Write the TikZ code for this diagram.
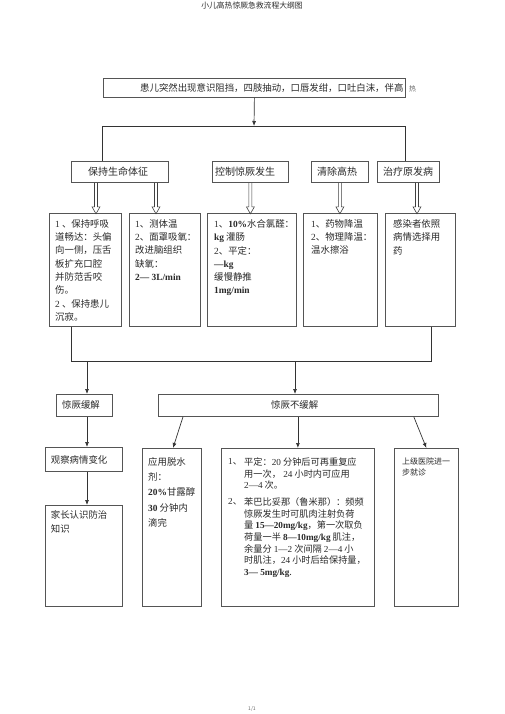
\documentclass[tikz,border=0pt]{standalone}
\usepackage{fontspec}
\setmainfont{Noto Sans CJK SC}
\newfontfamily\lat{Liberation Serif}
\usetikzlibrary{arrows.meta,calc}
\definecolor{linec}{HTML}{555555}
\definecolor{txtc}{HTML}{2A2A2A}
\newcommand{\E}[1]{{\lat #1}}
\newcommand{\B}[1]{{\lat\bfseries #1}}
\begin{document}
\begin{tikzpicture}[x=1pt,y=-1pt,
  box/.style={draw=linec,line width=0.8pt,inner sep=0pt,anchor=north west},
  txt/.style={anchor=north west,inner sep=0pt,align=left,text=txtc,font=\fontsize{9.4}{13.3}\selectfont},
  lbl/.style={anchor=west,inner sep=0pt,text=txtc,font=\fontsize{9.4}{11}\selectfont},
  arr/.style={draw=black!80,line width=0.7pt,-{Latex[length=5pt,width=4pt]}},
  ln/.style={draw=black!80,line width=0.7pt},
  hol/.style={draw=black!75,line width=0.6pt,line join=miter}]
\useasboundingbox (0,0) rectangle (505,714);
\fill[white] (0,0) rectangle (505,714);

% title and footer
\node[font=\fontsize{7.8}{9}\selectfont,text=txtc,inner sep=0pt] (title) at (252,6) {小儿高热惊厥急救流程大纲图};
\node[font=\fontsize{5}{6}\selectfont,text=black!60,inner sep=0pt] (pg) at (252,709) {1/1};

% top box
\node[box,minimum width=302pt,minimum height=19pt] (top) at (103,78) {};
\node[lbl] (toptxt) at (140,88) {患儿突然出现意识阻挡，四肢抽动，口唇发绀，口吐白沫，伴高};
\node[lbl,font=\fontsize{7}{8}\selectfont,text=black!60] (re) at (409,89) {热};

% row 2
\node[box,minimum width=97pt,minimum height=21pt] (g1) at (71,161) {};
\node[box,minimum width=76pt,minimum height=21pt] (g2) at (212,161) {};
\node[box,minimum width=57pt,minimum height=21pt] (g3) at (311,161) {};
\node[box,minimum width=62pt,minimum height=21pt] (g4) at (377,161) {};
\node[lbl,font=\fontsize{10}{12}\selectfont] (l1) at (88,171.5) {保持生命体征};
\node[lbl,font=\fontsize{10}{12}\selectfont] (l2) at (215,171.5) {控制惊厥发生};
\node[lbl,font=\fontsize{10}{12}\selectfont] (l3) at (317,171.5) {清除高热};
\node[lbl,font=\fontsize{10}{12}\selectfont] (l4) at (383,171.5) {治疗原发病};

\coordinate (hlL) at (102,126);
\coordinate (hlM) at (254,126);
\coordinate (hlR) at (405,126);
\draw[arr] (top.south) -- (hlM);
\draw[ln] (g1.north -| hlL) -- (hlL) -- (hlR) -- (g4.north -| hlR);

% row 3
\node[box,minimum width=72pt,minimum height=113pt] (A) at (49,213) {};
\node[box,minimum width=71pt,minimum height=113pt] (B) at (129,213) {};
\node[box,minimum width=89pt,minimum height=113pt] (C) at (207,213) {};
\node[box,minimum width=74pt,minimum height=113pt] (D) at (303,213) {};
\node[box,minimum width=70pt,minimum height=113pt] (E) at (385,213) {};

% hollow arrows (shaft 24, head 7)
\draw[hol] ([xshift=23.5pt]g1.south west) -- ++(0,24) -- ++(-2.5,0) -- ++(4,7) -- ++(4,-7) -- ++(-2.5,0) -- ++(0,-24);
\draw[hol] ([xshift=83.5pt]g1.south west) -- ++(0,24) -- ++(-2.5,0) -- ++(4,7) -- ++(4,-7) -- ++(-2.5,0) -- ++(0,-24);
\draw[hol] ([xshift=-1.5pt]g2.south) -- ++(0,24) -- ++(-2.5,0) -- ++(4,7) -- ++(4,-7) -- ++(-2.5,0) -- ++(0,-24);
\draw[hol] ([xshift=-1.5pt]g3.south) -- ++(0,24) -- ++(-2.5,0) -- ++(4,7) -- ++(4,-7) -- ++(-2.5,0) -- ++(0,-24);
\draw[hol] ([xshift=38.5pt]g4.south west) -- ++(0,24) -- ++(-2.5,0) -- ++(4,7) -- ++(4,-7) -- ++(-2.5,0) -- ++(0,-24);

\node[txt] (tA) at (55,219.3) {\E{1} 、保持呼吸\\道畅达：头偏\\向一侧，压舌\\板扩充口腔\\并防范舌咬\\伤。\\\E{2} 、保持患儿\\沉寂。};
\node[txt] (tB) at (135,219.3) {\E{1}、测体温\\\E{2}、面罩吸氧：\\改进脑组织\\缺氧：\\\B{2— 3L/min}};
\node[txt] (tC) at (214,219.3) {\E{1}、\B{10\%}水合氯醛：\\\B{kg} 灌肠\\\E{2}、平定：\\\B{—kg}\\缓慢静推\\\B{1mg/min}};
\node[txt] (tD) at (311,219.3) {\E{1}、药物降温\\\E{2}、物理降温：\\温水擦浴};
\node[txt] (tE) at (393,219.3) {感染者依照\\病情选择用\\药};

% bracket and outcomes
\coordinate (uL) at (71,361);
\coordinate (uR) at (431,361);
\coordinate (u1) at (87,361);
\coordinate (u2) at (295,361);
\draw[ln] (A.south -| uL) -- (uL) -- (uR) -- (E.south -| uR);

\node[box,minimum width=56pt,minimum height=22pt] (r1) at (56,394) {};
\node[box,minimum width=280pt,minimum height=22pt] (r2) at (158,394) {};
\node[lbl] (lr1) at (62,405) {惊厥缓解};
\node[lbl] (lr2) at (271,405) {惊厥不缓解};
\draw[arr] (u1) -- (u1 |- r1.north);
\draw[arr] (u2) -- (u2 |- r2.north);

% bottom left
\node[box,minimum width=77pt,minimum height=24pt] (obs) at (45,447) {};
\node[lbl] (lobs) at (50.7,460) {观察病情变化};
\node[box,minimum width=77pt,minimum height=101pt] (fam) at (45,505) {};
\node[txt,font=\fontsize{9.4}{14}\selectfont] (tfam) at (50.7,510.3) {家长认识防治\\知识};
\draw[arr] (r1.south -| u1) -- (obs.north -| u1);
\draw[arr] (obs.south -| u1) -- (fam.north -| u1);

% bottom right
\node[box,minimum width=59pt,minimum height=158pt] (dh) at (142,448) {};
\node[box,minimum width=153pt,minimum height=158pt] (mid) at (221,448) {};
\node[box,minimum width=64pt,minimum height=158pt] (hosp) at (394,448) {};

\node[txt,font=\fontsize{9.4}{15.2}\selectfont] (tdh) at (148,457.3) {应用脱水\\剂：\\\B{20\%}甘露醇\\\B{30} 分钟内\\滴完};

\node[lbl,font=\fontsize{9.2}{11.7}\selectfont] (n1) at (228,462) {\E{1}、};
\node[txt,font=\fontsize{9.2}{11.7}\selectfont] (m1) at (244,457.4) {平定：\E{20} 分钟后可再重复应\\用一次，\E{ 24} 小时内可应用\\\E{2—4} 次。};
\node[lbl,font=\fontsize{9.2}{11.7}\selectfont] (n2) at (228,502) {\E{2}、};
\node[txt,font=\fontsize{9.2}{11.7}\selectfont] (m2) at (244,497.4) {苯巴比妥那（鲁米那）：频频\\惊厥发生时可肌肉注射负荷\\量 \B{15—20mg/kg}，第一次取负\\荷量一半 \B{8—10mg/kg} 肌注，\\余量分 \E{1—2} 次间隔 \E{2—4} 小\\时肌注，\E{24} 小时后给保持量，\\\B{3— 5mg/kg}.};

\node[txt,font=\fontsize{8}{11}\selectfont] (th) at (402,458) {上级医院进一\\步就诊};

\draw[arr] ([xshift=25pt]r2.south west) -- ([xshift=31pt]dh.north west);
\draw[arr] (mid.north |- r2.south) -- (mid.north);
\draw[arr] ([xshift=-25pt]r2.south east) -- (hosp.north);
\end{tikzpicture}
\end{document}
